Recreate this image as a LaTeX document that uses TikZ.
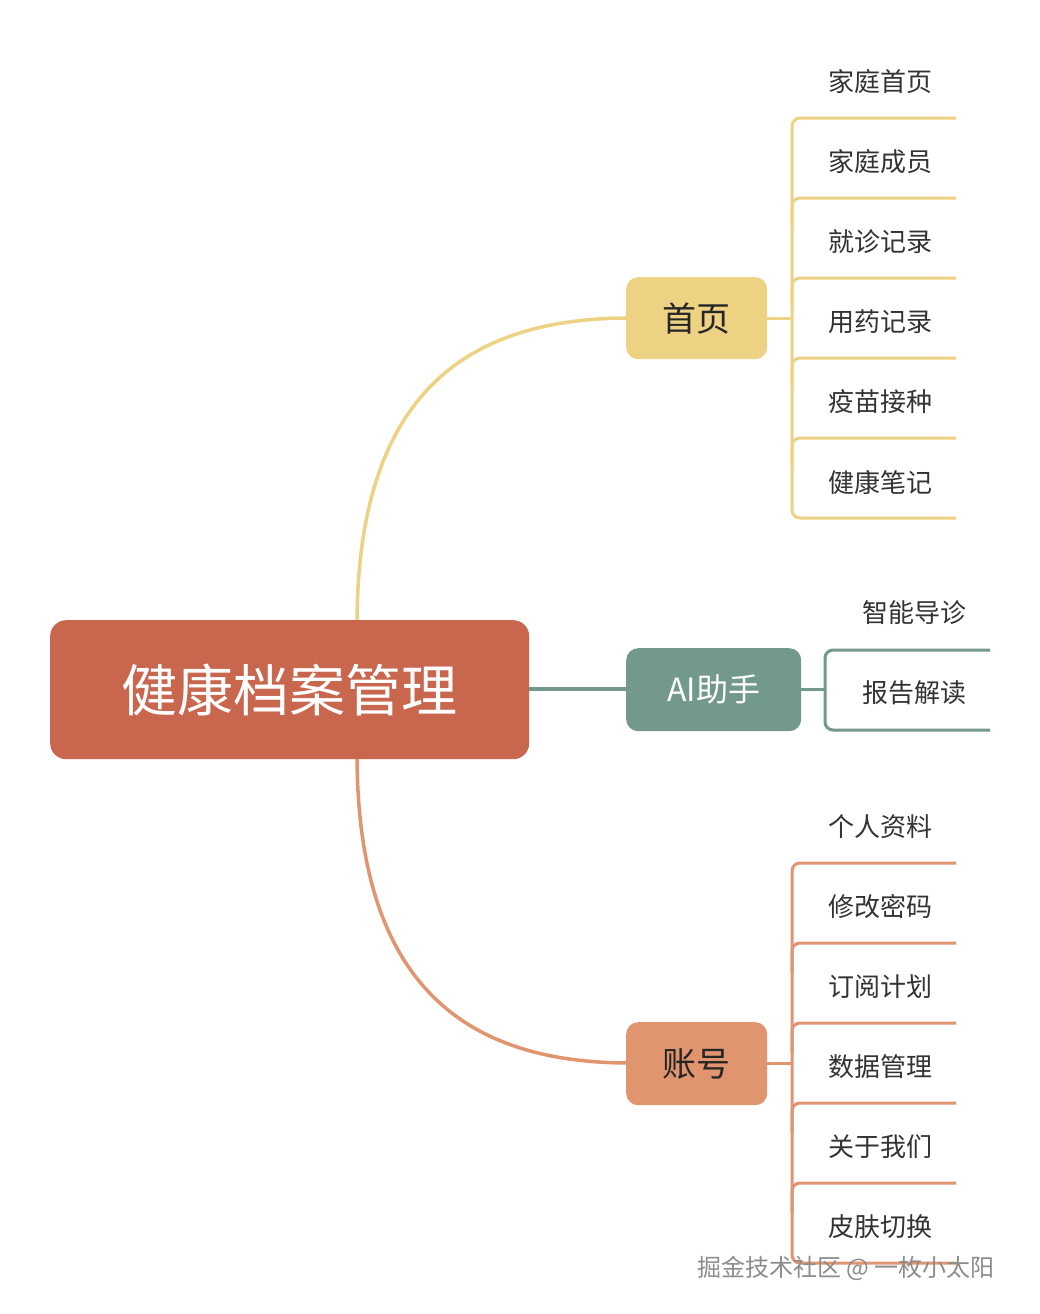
\documentclass[tikz,border=0pt]{standalone}
\usepackage{fontspec}
\setmainfont{Noto Sans CJK SC}
\begin{document}
\begin{tikzpicture}[x=1pt,y=-1pt,
  box/.style={rounded corners=12pt,inner sep=0pt,anchor=north west},
  leaf/.style={anchor=west,font=\fontsize{26}{30}\selectfont,text=black!80,inner sep=0pt},
  ln/.style={line width=3pt,rounded corners=8pt}]
\definecolor{cr}{HTML}{C8664E}
\definecolor{cy}{HTML}{EDD283}
\definecolor{cg}{HTML}{72998A}
\definecolor{co}{HTML}{E0956F}
\fill[white] (0,0) rectangle (1040,1314);
\useasboundingbox (0,0) rectangle (1040,1314);
% connectors first
\coordinate (rt) at (357,625);
\coordinate (rb) at (357,754);
\draw[cy,line width=3.5pt] (rt) .. controls (357,390) and (470,318) .. (630,318);
\draw[co,line width=3.5pt] (rb) .. controls (357,990) and (470,1063) .. (630,1063);
\draw[cg,line width=3.5pt] (525,689) -- (630,689);
% main nodes
\node[box,fill=cr,minimum width=479pt,minimum height=139pt,rounded corners=16pt] (root) at (50,620) {};
\node[text=white,font=\fontsize{56}{60}\selectfont] at (root.center) {健康档案管理};
\node[box,fill=cy,minimum width=141pt,minimum height=82pt] (h) at (626,277) {};
\node[font=\fontsize{34}{38}\selectfont,text=black!85] at (h.center) {首页};
\node[box,fill=cg,minimum width=175pt,minimum height=83pt] (ai) at (626,648) {};
\node[font=\fontsize{32}{36}\selectfont,text=white] at (ai.center) {AI助手};
\node[box,fill=co,minimum width=141pt,minimum height=83pt] (z) at (626,1022) {};
\node[font=\fontsize{34}{38}\selectfont,text=black!85] at (z.center) {账号};
% home branch
\coordinate (hj) at (792,318);
\draw[cy,line width=3pt] (h.east |- hj) -- (hj);
\draw[cy,ln] (956,118) -- (792,118) -- (792,518) -- (956,518);
\foreach \y in {198,278,358,438} \draw[cy,ln] (956,\y) -- (792,\y) -- (792,\y+30);
\foreach \t/\y in {家庭首页/82,家庭成员/162,就诊记录/242,用药记录/322,疫苗接种/402,健康笔记/482}
  \node[leaf] at (828,\y) {\t};
% AI branch
\coordinate (aj) at (825,689);
\draw[cg,line width=3pt] (ai.east |- aj) -- (aj);
\draw[cg,ln] (990,650) -- (825,650) -- (825,730) -- (990,730);
\node[leaf] at (862,613) {智能导诊};
\node[leaf] at (862,693) {报告解读};
% account branch
\coordinate (zj) at (792,1063);
\draw[co,line width=3pt] (z.east |- zj) -- (zj);
\draw[co,ln] (956,863) -- (792,863) -- (792,1263) -- (956,1263);
\foreach \y in {943,1023,1103,1183} \draw[co,ln] (956,\y) -- (792,\y) -- (792,\y+30);
\foreach \t/\y in {个人资料/827,修改密码/907,订阅计划/987,数据管理/1067,关于我们/1147,皮肤切换/1227}
  \node[leaf] at (828,\y) {\t};
% watermark
\node[anchor=west,font=\fontsize{24}{28}\selectfont,text=black!45,inner sep=0pt] (wm) at (697,1268) {掘金技术社区 @ 一枚小太阳};
\end{tikzpicture}
\end{document}
